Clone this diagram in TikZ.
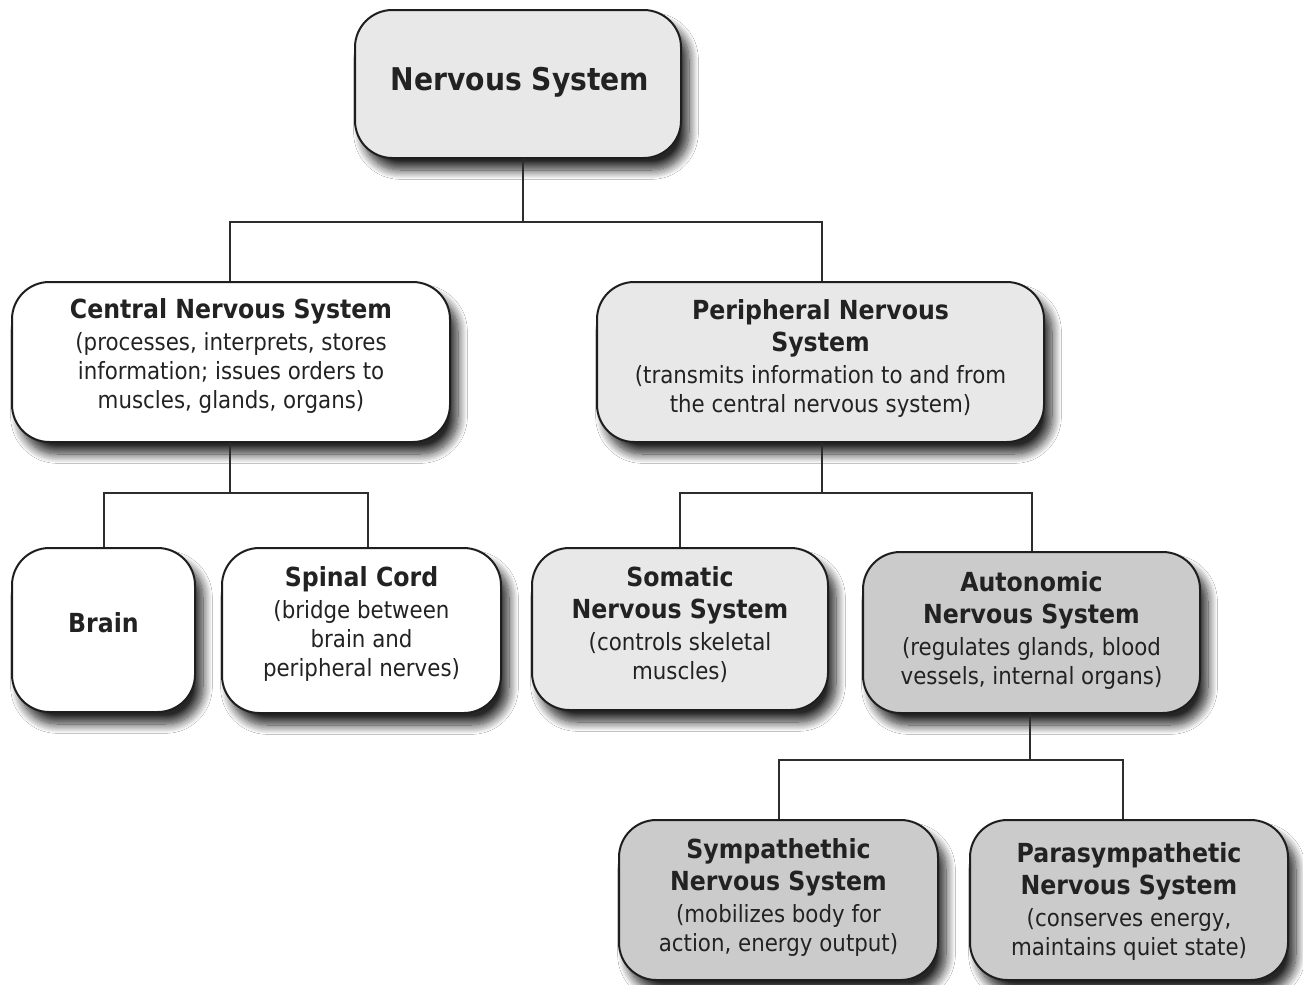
\documentclass[tikz,border=0pt]{standalone}
\usepackage{fontspec}
\setmainfont{DejaVu Sans}[FakeStretch=0.9]
\usetikzlibrary{shadows.blur}
\definecolor{ink}{RGB}{34,34,34}
\definecolor{bd}{RGB}{30,30,30}
\definecolor{lg}{RGB}{232,232,232}
\definecolor{mg}{RGB}{203,203,203}
\definecolor{ln}{RGB}{45,45,45}
\newcommand{\ttl}[1]{{\fontsize{19.7}{21.75}\selectfont\bfseries #1}}
\tikzset{
  bw/.style={minimum width=#1*0.75pt},
  bh/.style={minimum height=#1*0.75pt},
  box/.style={draw=bd, line width=1.5pt, rounded corners=28pt, inner sep=0pt,
    blur shadow={shadow xshift=6pt, shadow yshift=-9pt, shadow blur radius=7pt,
      shadow blur steps=14, shadow opacity=85}},
  txt/.style={align=center, text=ink, inner sep=0pt,
    font=\fontsize{17.8}{21.75}\selectfont},
  conn/.style={draw=ln, line width=1.5pt},
  stem/.style={draw=ln, line width=2.2pt}}
\begin{document}
\begin{tikzpicture}[x=0.75pt,y=-0.75pt]
\useasboundingbox[fill=white] (0,0) rectangle (1303,985);

% boxes
\node[box, fill=lg,    bw=326, bh=148] (ns)   at (518,84) {};
\node[box, fill=white, bw=438, bh=160] (cns)  at (231,362) {};
\node[box, fill=lg,    bw=447, bh=160] (pns)  at (820.5,362) {};
\node[box, fill=white, bw=183, bh=164] (brain) at (103.5,630) {};
\node[box, fill=white, bw=279, bh=165] (spinal) at (361.5,630.5) {};
\node[box, fill=lg,    bw=296, bh=162] (som)  at (680,629) {};
\node[box, fill=mg,    bw=337, bh=161] (aut)  at (1031.5,632.5) {};
\node[box, fill=mg,    bw=319, bh=160] (sym)  at (778.5,900) {};
\node[box, fill=mg,    bw=318, bh=160] (par)  at (1129,900) {};

% texts
\node[txt, font=\fontsize{23.5}{26}\selectfont\bfseries] (nsT) at (520,82) {Nervous System};
\node[txt] (cnsT) at (231,356) {\ttl{Central Nervous System}\\[2.25pt]
  (processes, interprets, stores\\ information; issues orders to\\ muscles, glands, organs)};
\node[txt] (pnsT) at (820.5,358) {\ttl{Peripheral Nervous}\\[2.25pt]\ttl{System}\\[2.25pt]
  (transmits information to and from\\ the central nervous system)};
\node[txt] (brainT) at (103.5,623) {\ttl{Brain}};
\node[txt] (spinalT) at (361.5,624) {\ttl{Spinal Cord}\\[2.25pt]
  (bridge between\\ brain and\\ peripheral nerves)};
\node[txt] (somT) at (680,625) {\ttl{Somatic}\\[2.25pt]\ttl{Nervous System}\\[2.25pt]
  (controls skeletal\\ muscles)};
\node[txt] (autT) at (1031.5,630) {\ttl{Autonomic}\\[2.25pt]\ttl{Nervous System}\\[2.25pt]
  (regulates glands, blood\\ vessels, internal organs)};
\node[txt] (symT) at (778.5,897) {\ttl{Sympathethic}\\[2.25pt]\ttl{Nervous System}\\[2.25pt]
  (mobilizes body for\\ action, energy output)};
\node[txt] (parT) at (1129,901) {\ttl{Parasympathetic}\\[2.25pt]\ttl{Nervous System}\\[2.25pt]
  (conserves energy,\\ maintains quiet state)};

% junctions
\coordinate (j1) at (523,222);
\coordinate (j2) at (230,493);
\coordinate (j3) at (822,493);
\coordinate (j4) at (1030,760);

% connectors
\draw[stem] (ns.south -| j1) -- (j1);
\draw[conn] (cns.north -| j2) |- (j1) -| (pns.north -| j3);
\draw[stem] (cns.south -| j2) -- (j2);
\draw[conn] (brain.north) |- (j2) -| ([xshift=4.9pt]spinal.north);
\draw[stem] (pns.south -| j3) -- (j3);
\draw[conn] (som.north) |- (j3) -| (aut.north);
\draw[conn] (aut.south -| j4) -- (j4);
\draw[conn] (sym.north) |- (j4) -| ([xshift=-4.5pt]par.north);
\end{tikzpicture}
\end{document}
